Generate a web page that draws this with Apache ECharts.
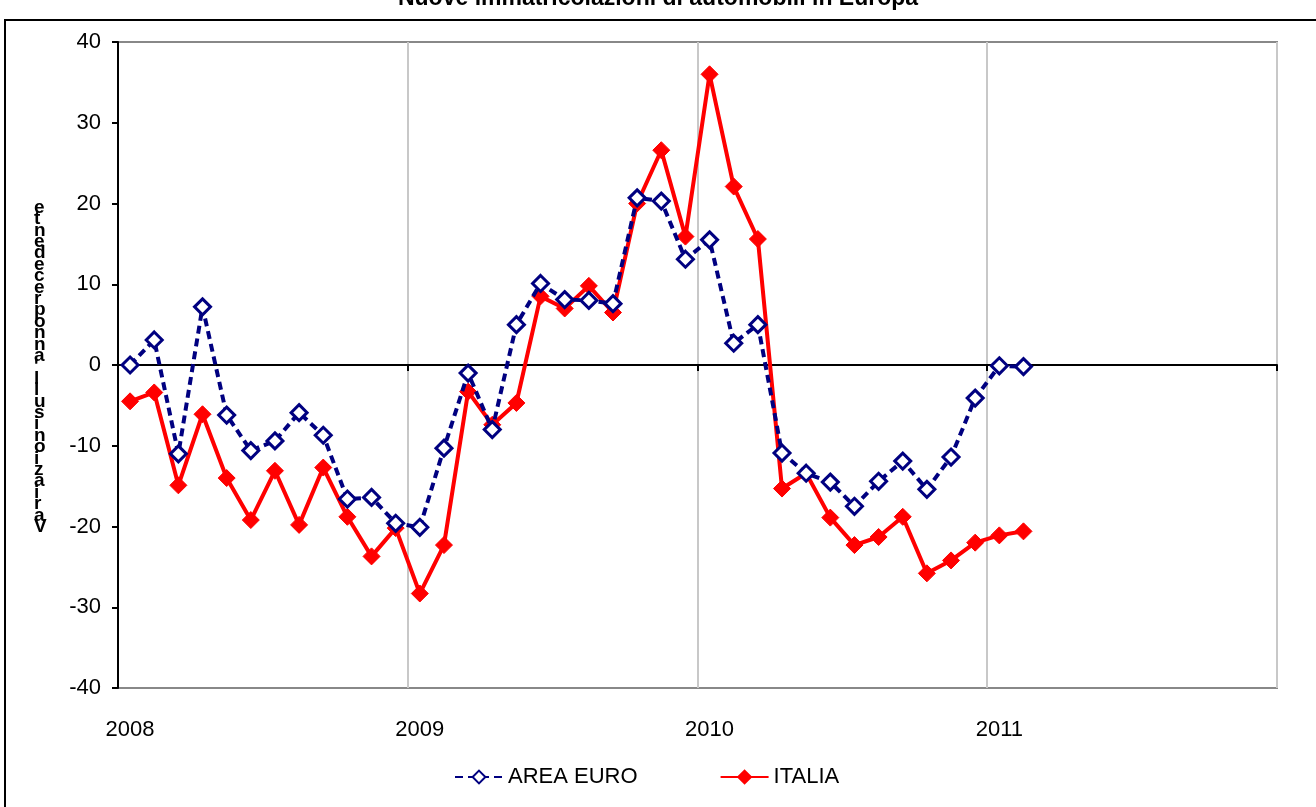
<!DOCTYPE html>
<html>
<head>
<meta charset="utf-8">
<script src="https://cdn.jsdelivr.net/npm/echarts@6/dist/echarts.min.js"></script>
<style>
  html, body { margin: 0; padding: 0; background: #fff; }
  #chart { width: 1316px; height: 807px; }
</style>
</head>
<body>
<div id="chart"></div>
<script>
// mesi sull'asse (48 categorie, 2008-2011)
const months = [
  '2008-01','2008-02','2008-03','2008-04','2008-05','2008-06','2008-07','2008-08','2008-09','2008-10','2008-11','2008-12',
  '2009-01','2009-02','2009-03','2009-04','2009-05','2009-06','2009-07','2009-08','2009-09','2009-10','2009-11','2009-12',
  '2010-01','2010-02','2010-03','2010-04','2010-05','2010-06','2010-07','2010-08','2010-09','2010-10','2010-11','2010-12',
  '2011-01','2011-02','2011-03','2011-04','2011-05','2011-06','2011-07','2011-08','2011-09','2011-10','2011-11','2011-12'
]

const areaEuro = [
  0, 3.1, -11.0, 7.2, -6.2, -10.6, -9.4, -5.9, -8.7, -16.6, -16.4, -19.6,
  -20.1, -10.3, -1.0, -8.0, 5.0, 10.1, 8.1, 8.0, 7.6, 20.7, 20.3, 13.1,
  15.5, 2.7, 5.0, -10.9, -13.4, -14.5, -17.5, -14.4, -11.9, -15.4, -11.4, -4.1,
  -0.1, -0.2
]

const italia = [
  -4.5, -3.4, -14.9, -6.1, -14.0, -19.2, -13.1, -19.8, -12.7, -18.8, -23.7, -20.2,
  -28.3, -22.3, -3.3, -7.4, -4.7, 8.5, 7.0, 9.8, 6.5, 20.0, 26.6, 15.9,
  36.0, 22.1, 15.6, -15.3, -13.4, -18.9, -22.3, -21.3, -18.8, -25.8, -24.2, -22.0,
  -21.1, -20.6
]

const seriesNames = ['AREA EURO', 'ITALIA']
const yTicks = { min: -40, max: 40, step: 10 }

const title = 'Nuove immatricolazioni di automobili in Europa'
const yName = "Variazioni sull'anno precedente"

const font = 'Arial, "Liberation Sans", sans-serif'
const yearTick = (i) => i % 12 === 0

const chart = echarts.init(document.getElementById('chart'))

chart.setOption({
  animation: false,
  backgroundColor: '#fff',
  textStyle: { fontFamily: font },
  title: {
    text: title,
    left: 'center',
    top: -18,
    textStyle: { fontSize: 23, fontWeight: 'bold', color: '#000', fontFamily: font }
  },
  graphic: [
    {
      type: 'rect',
      shape: { x: 5, y: 20, width: 1330, height: 820 },
      style: { fill: 'none', stroke: '#000', lineWidth: 2 },
      silent: true
    },
    {
      type: 'text',
      left: 34,
      top: 198,
      style: {
        // lettere impilate, dal basso verso l'alto
        text: yName.replace(/ /g, '').split('').reverse().join('\n'),
        font: 'bold 19px ' + font,
        lineHeight: 11.4,
        fill: '#000',
        align: 'center'
      },
      silent: true
    }
  ],
  legend: {
    bottom: 14,
    left: 449,
    itemWidth: 48,
    itemHeight: 16,
    itemGap: 82,
    textStyle: { fontSize: 22, color: '#000', fontFamily: font },
    data: seriesNames
  },
  grid: {
    left: 118,
    right: 39,
    top: 42,
    bottom: 119,
    show: true,
    borderColor: '#888',
    borderWidth: 2,
    backgroundColor: '#fff'
  },
  xAxis: [
    {
      type: 'category',
      data: months,
      boundaryGap: true,
      axisLine: { show: false, onZero: false },
      axisTick: { show: false },
      axisLabel: {
        interval: yearTick,
        formatter: v => v.slice(0, 4),
        margin: 31,
        fontSize: 22,
        color: '#000',
        fontFamily: font
      },
      splitLine: {
        show: true,
        interval: yearTick,
        lineStyle: { color: '#c8c8c8', width: 2 }
      }
    },
    {
      type: 'category',
      data: months,
      boundaryGap: true,
      position: 'bottom',
      axisLine: { show: true, onZero: true, lineStyle: { color: '#000', width: 2 } },
      axisTick: { show: true, interval: yearTick, length: 6, lineStyle: { color: '#000', width: 2 } },
      axisLabel: { show: false },
      splitLine: { show: false }
    }
  ],
  yAxis: {
    type: 'value',
    min: yTicks.min,
    max: yTicks.max,
    interval: yTicks.step,
    axisLine: { show: true, lineStyle: { color: '#000', width: 2 } },
    axisTick: { show: true, length: 6, lineStyle: { color: '#000', width: 2 } },
    axisLabel: { fontSize: 22, color: '#000', margin: 17, fontFamily: font },
    splitLine: { show: false }
  },
  series: [
    {
      name: seriesNames[0],
      type: 'line',
      xAxisIndex: 0,
      data: areaEuro,
      symbol: 'diamond',
      symbolSize: 16,
      showAllSymbol: true,
      z: 3,
      lineStyle: { color: '#000080', width: 4, type: [8, 5] },
      itemStyle: { color: '#fff', borderColor: '#000080', borderWidth: 3 }
    },
    {
      name: seriesNames[1],
      type: 'line',
      xAxisIndex: 0,
      data: italia,
      symbol: 'diamond',
      symbolSize: 17,
      showAllSymbol: true,
      z: 2,
      lineStyle: { color: '#ff0000', width: 4 },
      itemStyle: { color: '#ff0000', borderColor: '#ff0000', borderWidth: 1 }
    }
  ]
})
</script>
</body>
</html>
